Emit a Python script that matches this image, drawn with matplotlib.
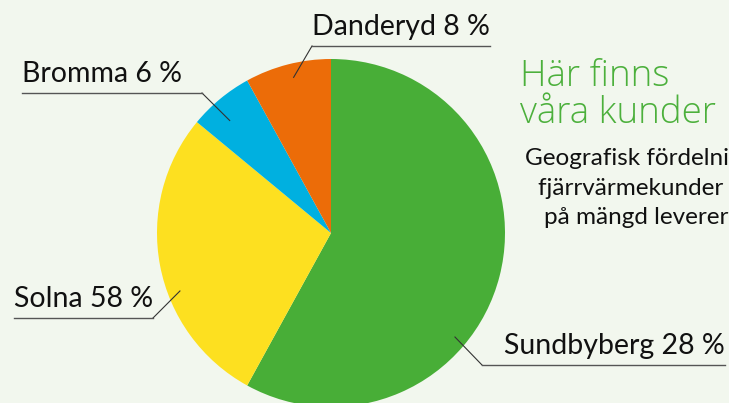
import numpy as np
import matplotlib.pyplot as plt

# Customer distribution (labels as printed in the source graphic)
labels = ['Sundbyberg 28 %', 'Solna 58 %', 'Bromma 6 %', 'Danderyd 8 %']
values = [58, 28, 6, 8]
colors = ['#48ae37', '#fde020', '#00b0e0', '#ec6c08']

title = ['Här finns', 'våra kunder']
subtitle = ['Geografisk fördelning av', 'fjärrvärmekunder baserat', 'på mängd levererad energi']

bg = '#f2f7ee'
plt.rcParams['font.family'] = ['Lato', 'DejaVu Sans']

fig = plt.figure(figsize=(7.29, 4.03), dpi=100, facecolor=bg)
ax = fig.add_axes([0, 0, 1, 1])
ax.set_facecolor(bg)

cx, cy, R = 331, 403 - 233, 174
wedges, _ = ax.pie(values, colors=colors, startangle=90, counterclock=False,
                   center=(cx, cy), radius=R, frame=True,
                   wedgeprops=dict(linewidth=0))
ax.set_xlim(0, 729)
ax.set_ylim(0, 403)
ax.axis('off')

# leader lines: anchor angle (deg), anchor radius, elbow point, line end, text side
leaders = [
    (-40, 0.93, (482, 403 - 365), 725, 'right'),
    (201, 0.93, (153, 403 - 318), 14, 'left'),
    (132, 0.87, (202, 403 - 93), 22, 'left'),
    (103.5, 0.92, (312, 403 - 46), 490, 'right'),
]
for lab, (ang, rf, elbow, xend, side) in zip(labels, leaders):
    ax0 = cx + rf * R * np.cos(np.radians(ang))
    ay0 = cy + rf * R * np.sin(np.radians(ang))
    ax.plot([ax0, elbow[0]], [ay0, elbow[1]], color='#333333', lw=0.8)
    ax.plot([elbow[0], xend], [elbow[1], elbow[1]], color='#555555', lw=1.0)
    ax.text(xend, elbow[1] + 11, lab, ha=side, va='baseline',
            fontsize=20.5, color='#111111')

for y, line in zip([86, 123], title):
    ax.text(520, 403 - y, line, ha='left', va='baseline', family='Open Sans',
            fontweight='light', fontsize=26.5, color='#4cb03c')

for x, y, line in zip([525, 538, 544], [165, 195, 224], subtitle):
    ax.text(x, 403 - y, line, ha='left', va='baseline', fontsize=17.5,
            color='#111111')

fig.savefig('out.png', dpi=100, facecolor=bg)
